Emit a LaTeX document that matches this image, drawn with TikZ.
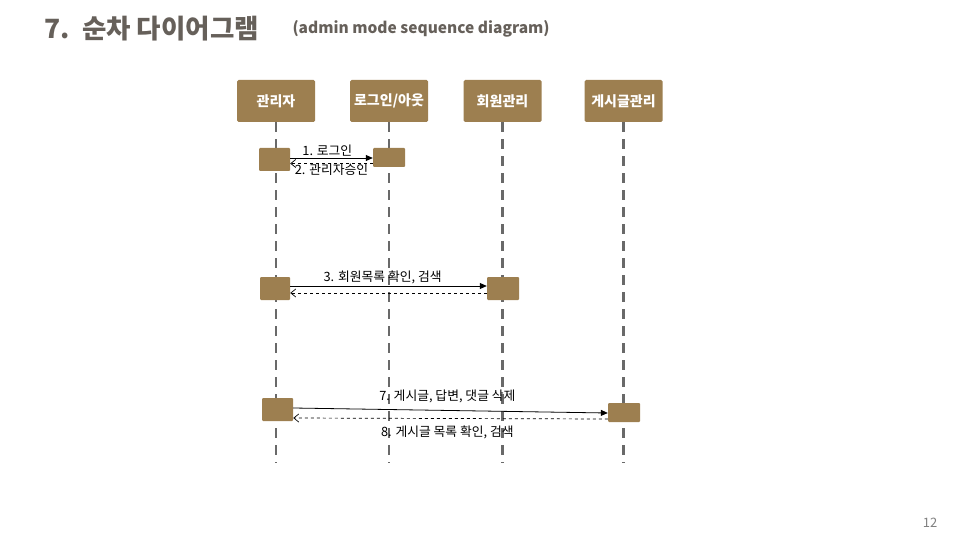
\documentclass[tikz,border=0pt]{standalone}
\usepackage{fontspec}
\setmainfont{Noto Sans CJK KR}
\usetikzlibrary{arrows.meta, positioning, calc}
\definecolor{boxbrown}{RGB}{157,127,80}
\definecolor{titlegray}{RGB}{102,96,90}
\definecolor{lifegray}{RGB}{105,105,105}

\begin{document}
\begin{tikzpicture}[
  x=1pt, y=-1pt,
  % Define styles for different elements
  actor/.style={draw=none, fill=boxbrown, rounded corners=1.5pt, minimum width=78pt, minimum height=42pt, text=white, font=\fontsize{14}{16}\selectfont\bfseries},
  act/.style={draw=none, fill=boxbrown, rounded corners=1pt, inner sep=0pt},
  lifeline/.style={lifegray, line width=2.8pt, dash pattern=on 10pt off 7pt},
  msg/.style={-{Triangle[length=7pt, width=6pt]}, line width=0.8pt},
  reply/.style={-{Straight Barb[length=5pt, width=8pt]}, line width=0.7pt, dashed},
  lbl/.style={font=\fontsize{12.8}{14}\selectfont, inner sep=1.5pt}
]
\useasboundingbox (0,0) rectangle (960,540);

% Title
\node[anchor=west, text=titlegray, font=\fontsize{26.5}{30}\selectfont\bfseries] (title) at (41,29) {7.\ \ 순차 다이어그램};
\node[anchor=west, text=titlegray, font=\fontsize{15.5}{18}\selectfont\bfseries] (subtitle) at (289,29) {(admin mode sequence diagram)};

% Actors
\node[actor] (admin) at (276,101) {관리자};
\node[actor] (login) at (389,101) {로그인/아웃};
\node[actor] (member) at (502.5,101) {회원관리};
\node[actor] (board) at (623.5,101) {게시글관리};

% Lifelines
\coordinate (admin_end) at (276,463);
\coordinate (login_end) at (389,463);
\coordinate (member_end) at (502.5,463);
\coordinate (board_end) at (623.5,463);

\draw[lifeline] (admin.south) -- (admin_end);
\draw[lifeline] (login.south) -- (login_end);
\draw[lifeline] (member.south) -- (member_end);
\draw[lifeline] (board.south) -- (board_end);

% Activations
\node[act, minimum width=31pt, minimum height=23pt] (act1a) at (274.5,159.5) {};
\node[act, minimum width=32pt, minimum height=19pt] (act1b) at (389,157.5) {};
\node[act, minimum width=30pt, minimum height=23pt] (act3a) at (275,288.5) {};
\node[act, minimum width=32pt, minimum height=23pt] (act3b) at (503,288.5) {};
\node[act, minimum width=31pt, minimum height=23pt] (act7a) at (277.5,409.5) {};
\node[act, minimum width=32pt, minimum height=19pt] (act7b) at (624,412.5) {};

% Login
\draw[msg] ([yshift=1.5pt]act1a.east) -- node[lbl, above, pos=0.45] {1. 로그인} ([yshift=-0.5pt]act1b.west);
\draw[reply] ([yshift=-6pt]act1b.west) -- node[lbl, below=-1pt] {2. 관리자승인} ([yshift=-4pt]act1a.east);

% Member list
\draw[msg] ([yshift=2.5pt]act3a.east) -- node[lbl, above, pos=0.47] {3. 회원목록 확인, 검색} ([yshift=2.5pt]act3b.west);
\draw[reply] ([yshift=-4.5pt]act3b.west) -- ([yshift=-4.5pt]act3a.east);

% Board management
\draw[msg] ([yshift=1.5pt]act7a.east) -- node[lbl, above=6pt, pos=0.49] {7. 게시글, 답변, 댓글 삭제} ([yshift=-0.5pt]act7b.west);
\draw[reply] ([yshift=-6.5pt]act7b.west) -- node[lbl, below=5pt, pos=0.51] {8. 게시글 목록 확인, 검색} ([yshift=-8.5pt]act7a.east);

% Page number
\node[text=gray, font=\fontsize{13}{15}\selectfont] (page) at (930,523) {12};

\end{tikzpicture}
\end{document}
